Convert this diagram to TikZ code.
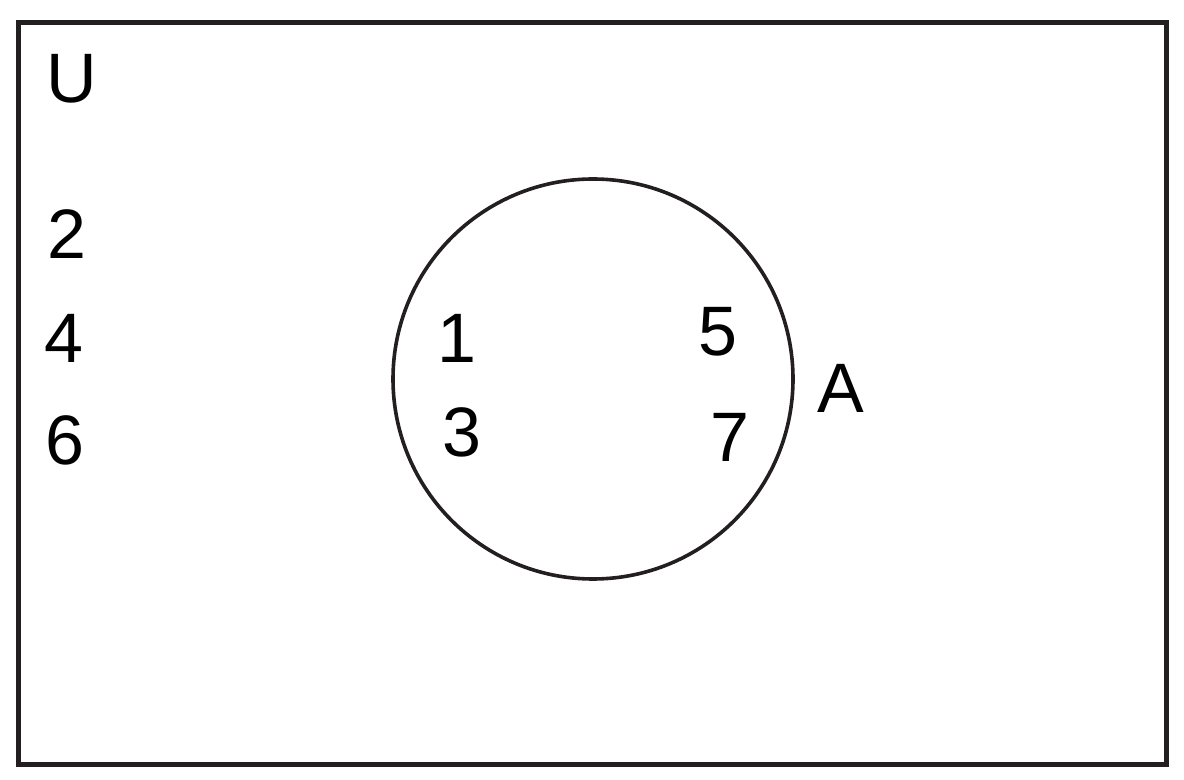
\documentclass[tikz,border=0pt]{standalone}
\usepackage{fontspec}
\setmainfont{Liberation Sans}
\definecolor{ink}{HTML}{231F20}
\begin{document}
\begin{tikzpicture}[x=0.5pt,y=-0.5pt,
  lbl/.style={inner sep=0pt,font=\fontsize{35}{40}\selectfont,text=black},
  frame/.style={draw=ink,line width=2.3pt},
  setA/.style={draw=ink,line width=1.8pt}]
\useasboundingbox (0,0) rectangle (1184,780);
\draw[frame] (18.5,22.5) rectangle (1166.5,764.5);
\node[setA,circle,minimum size=400*0.5pt,inner sep=0pt] (circA) at (593,379) {};
\node[lbl] (U) at (72,79) {U};
\node[lbl] (n2) at (67,234) {2};
\node[lbl] (n4) at (64,338) {4};
\node[lbl] (n6) at (65,440) {6};
\node[lbl] (n1) at (457,338) {1};
\node[lbl] (n3) at (462,432) {3};
\node[lbl] (n5) at (718,332) {5};
\node[lbl] (n7) at (730,437) {7};
\node[lbl] (A) at (841,388) {A};
\end{tikzpicture}
\end{document}
